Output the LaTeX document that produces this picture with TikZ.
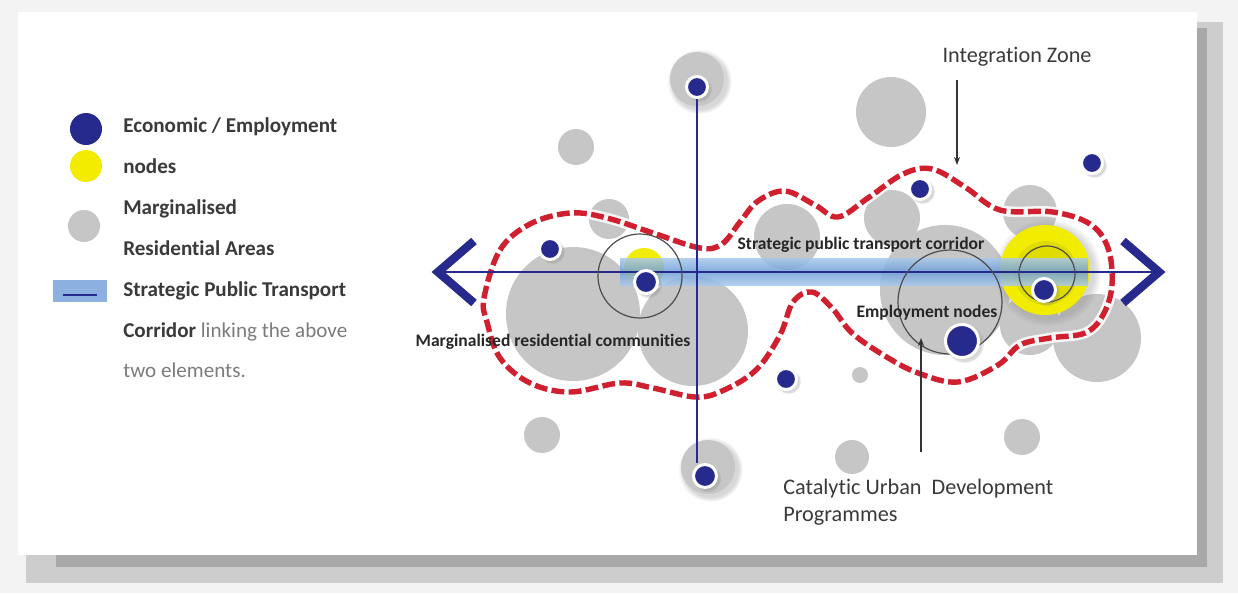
\documentclass[tikz,border=0pt]{standalone}
\usepackage{fontspec}
\setmainfont{Carlito}[Ligatures=NoCommon]
\usepackage{tikz}
\usetikzlibrary{arrows.meta,positioning,calc,shadows}
\definecolor{navy}{HTML}{262A8C}
\definecolor{areagrey}{HTML}{C6C6C6}
\definecolor{nodeyellow}{HTML}{F2EC00}
\definecolor{zonered}{HTML}{D01F2E}
\definecolor{bandblue}{HTML}{6F9ED8}
\definecolor{bandlight}{HTML}{A8C8EC}
\definecolor{inkgrey}{HTML}{3A3A3A}
\definecolor{softgrey}{HTML}{7C7C7C}
\definecolor{pagebg}{HTML}{F3F3F3}
\definecolor{shadowdark}{HTML}{A8A8A8}
\definecolor{shadowlight}{HTML}{CDCDCD}
\tikzset{
  garea/.style={circle,fill=areagrey,inner sep=0pt,minimum size=#1*0.5mm},
  soft/.style={circular drop shadow={shadow scale=1.2,opacity=0.3}},
  enode/.style={circle,fill=navy,draw=white,line width=0.75mm,inner sep=0pt,minimum size=#1*0.5mm,soft},
  ynode/.style={circle,fill=nodeyellow,inner sep=0pt,minimum size=#1*0.5mm},
  ring/.style={circle,draw=black!70,line width=0.3mm,inner sep=0pt,minimum size=#1*0.5mm},
  lgdot/.style={circle,inner sep=0pt,minimum size=8mm},
  corr/.style={draw=navy,line width=0.5mm},
  chev/.style={draw=navy,line width=2.1mm,line join=miter},
  zone/.style={draw=zonered,line width=1.35mm,dash pattern=on 3.2mm off 1.1mm},
  zoneglow/.style={draw=white,line width=2.6mm,solid,draw opacity=0.85},
  note/.style={-{Stealth[length=2mm,width=1.5mm]},line width=0.35mm,draw=black!80},
  lgtxt/.style={anchor=base west,font=\fontsize{15}{18}\selectfont\bfseries,text=inkgrey,inner sep=0pt},
  lgsoft/.style={anchor=base west,font=\fontsize{15}{18}\selectfont,text=softgrey,inner sep=0pt},
  maplbl/.style={font=\fontsize{12.5}{15}\selectfont\bfseries,text=black!85,inner sep=1pt},
  annot/.style={font=\fontsize{15.8}{19.2}\selectfont,text=inkgrey,align=left,inner sep=0pt}
}
\begin{document}
\begin{tikzpicture}[x=0.025cm,y=0.025cm,yscale=-1]
  \useasboundingbox (0,0) rectangle (1238,593);
  % card with its shadow
  \fill[pagebg] (0,0) rectangle (1238,593);
  \fill[shadowlight] (26,22) rectangle (1223,583);
  \fill[shadowdark] (56,28) rectangle (1207,567);
  \fill[white] (18,12) rectangle (1197,555);
  % legend
  \node[lgdot,fill=navy] (lgblue) at (86,129) {};
  \node[lgdot,fill=nodeyellow] (lgyellow) at (86,166) {};
  \node[lgdot,fill=areagrey] (lggrey) at (84,226) {};
  \node[fill=bandblue!80,minimum width=13.5mm,minimum height=5.5mm,inner sep=0pt] (lgband) at (80,291) {};
  \draw[navy,line width=0.35mm] ([xshift=2.5mm,yshift=1mm]lgband.west) -- ([xshift=-2.5mm,yshift=1mm]lgband.east);
  \node[lgtxt] (lg1) at (123,132) {Economic / Employment};
  \node[lgtxt] (lg2) at (123,173) {nodes};
  \node[lgtxt] (lg3) at (123,214) {Marginalised};
  \node[lgtxt] (lg4) at (123,255) {Residential Areas};
  \node[lgtxt] (lg5) at (123,296) {Strategic Public Transport};
  \node[lgtxt] (lg6) at (123,337) {Corridor \mdseries\color{softgrey}linking the above};
  \node[lgsoft] (lg7) at (123,377) {two elements.};
  % residential areas
  \node[garea=27,soft] (ar1) at (697,79) {};
  \node[garea=18] (ar2) at (576,147) {};
  \node[garea=20] (ar3) at (609,219) {};
  \node[garea=67] (ar4) at (573,314) {};
  \node[garea=55] (ar5) at (693,331) {};
  \node[garea=35] (ar6) at (891,112) {};
  \node[garea=33] (ar7) at (787,237) {};
  \node[garea=28] (ar8) at (892,218) {};
  \node[garea=27] (ar9) at (1030,212) {};
  \node[garea=65] (ar10) at (945,290) {};
  \node[garea=44] (ar11) at (1097,338) {};
  \node[garea=30] (ar12) at (1030,325) {};
  \node[garea=8] (ar13) at (860,375) {};
  \node[garea=18] (ar14) at (542,435) {};
  \node[garea=27,soft] (ar15) at (708,467) {};
  \node[garea=17] (ar16) at (852,457) {};
  \node[garea=18] (ar17) at (1022,437) {};
  % employment nodes
  \node[ynode=20] (yl) at (644,268) {};
  \node[ynode=45,soft] (yr) at (1045,270) {};
  \node[ynode=32,fill=nodeyellow!85!black,opacity=0.45] (yrin) at (1046,273) {};
  % corridor band
  \shade[top color=bandlight,bottom color=bandlight,middle color=bandblue,opacity=0.85] (620,258) rectangle (1088,285);
  % integration zone
  \draw[zone,preaction={zoneglow}] plot[smooth cycle,tension=0.6] coordinates {
    (484,298) (500,250) (530,224) (570,213) (607,218) (653,233) (700,248) (722,244)
    (740,222) (758,201) (785,191) (815,205) (838,217) (868,198) (903,174) (932,169)
    (965,187) (1000,210) (1053,212) (1090,224) (1108,248) (1112,285) (1103,315)
    (1085,333) (1050,338) (1020,345) (998,365) (958,382) (918,373) (885,356)
    (852,333) (832,308) (812,292) (793,302) (780,335) (756,370) (722,391) (695,397)
    (653,388) (620,383) (570,392) (530,383) (500,358) (487,322)};
  % transport corridors
  \coordinate (wtip) at (438,272);
  \coordinate (etip) at (1159,272);
  \draw[corr] (wtip) -- (etip);
  \draw[chev] ($(wtip)+(36,-31)$) -- (wtip) -- ($(wtip)+(36,31)$);
  \draw[chev] ($(etip)+(-36,-31)$) -- (etip) -- ($(etip)+(-36,31)$);
  \node[ring=42] (rl) at (640,276) {};
  \node[ring=28] (rr) at (1047,274) {};
  \node[ring=52] (re) at (950,302) {};
  \node[enode=10.5] (e1) at (697,87) {};
  \node[enode=10.5] (e2) at (550,249) {};
  \node[enode=11.5] (e3) at (646,282) {};
  \node[enode=10.5] (e4) at (920,189) {};
  \node[enode=10.5] (e5) at (1092,163) {};
  \node[enode=11.5] (e6) at (1044,290) {};
  \node[enode=16.5] (e7) at (962,341) {};
  \node[enode=10.5] (e8) at (786,379) {};
  \node[enode=11.5] (e9) at (705,476) {};
  \draw[corr] (e1) -- (e1 |- e9.north);
  % labels
  \node[maplbl] (lblcorr) at (861,245) {Strategic public transport corridor};
  \node[maplbl] (lblemp) at (927,313) {Employment nodes};
  \node[maplbl] (lblres) at (553,342) {Marginalised residential communities};
  \node[annot] (lblzone) at (1017,57) {Integration Zone};
  \node[annot,anchor=west] (lblcudp) at (783,502) {Catalytic Urban\ \ Development\\Programmes};
  \coordinate (zonetop) at (957,80);
  \coordinate (zonetip) at (957,165);
  \draw[note] (zonetop) -- (zonetip);
  \coordinate (cudptail) at (921,452);
  \coordinate (cudptip) at (921,338);
  \draw[note] (cudptail) -- (cudptip);
\end{tikzpicture}
\end{document}
